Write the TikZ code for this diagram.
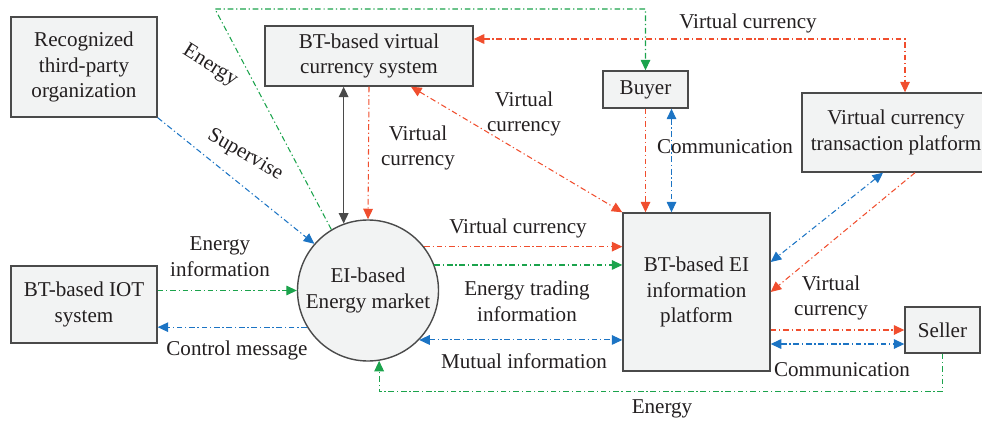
\documentclass[tikz,border=0pt]{standalone}
\usepackage{fontspec}
\setmainfont{Liberation Serif}
\usetikzlibrary{arrows.meta}
\definecolor{vcred}{HTML}{F04E2E}
\definecolor{engreen}{HTML}{1BA34C}
\definecolor{inblue}{HTML}{1C74C4}
\definecolor{boxfill}{HTML}{F2F3F3}
\definecolor{boxline}{HTML}{4A4A4A}
\definecolor{txt}{HTML}{231F20}

\begin{document}
\begin{tikzpicture}[font=\fontsize{12}{14.7}\selectfont,text=txt,
                tip/.style={-{Triangle[length=6pt,width=5.5pt]}},
                tips/.style={{Triangle[length=6pt,width=5.5pt]}-{Triangle[length=6pt,width=5.5pt]}},
                dd/.style={line width=0.6pt,dash pattern=on 3.2pt off 1.6pt on 0.7pt off 1.6pt},
                block/.style={draw=boxline,fill=boxfill,line width=0.8pt,align=center,inner sep=2pt},
                lbl/.style={align=center,inner sep=0pt}]
                \useasboundingbox (0,0) rectangle (19.64,-8.46);
                \node[block,minimum width=2.92cm,minimum height=2cm] (third) at (1.68,-1.34) {Recognized\\third-party\\organization};
                \node[block,minimum width=4.16cm,minimum height=1.2cm] (vcs) at (7.38,-1.12) {BT-based virtual\\currency system};
                \node[block,minimum width=1.7cm,minimum height=0.74cm] (buyer) at (12.91,-1.79) {Buyer};
                \node[block,minimum width=3.76cm,minimum height=1.58cm] (vctp) at (17.92,-2.65) {Virtual currency\\transaction platform};
                \node[block,minimum width=2.92cm,minimum height=1.54cm] (iot) at (1.68,-6.09) {BT-based IOT\\system};
                \node[draw=boxline,fill=boxfill,line width=0.8pt,circle,minimum size=2.82cm,align=center,inner sep=0pt] (market) at (7.36,-5.81) {EI-based\\Energy market};
                \node[block,minimum width=2.94cm,minimum height=3.16cm] (eip) at (13.93,-5.84) {BT-based EI\\information\\platform};
                \node[block,minimum width=1.5cm,minimum height=0.92cm] (seller) at (18.85,-6.6) {Seller};
                \coordinate (etop) at (4.3,-0.18);
                \draw[dd,engreen,tip] (market.121) -- (etop) -- (buyer.north |- etop) -- (buyer.north);
                \draw[dd,inblue,tip] (third.south east) -- (market.139);
                \draw[line width=0.8pt,boxline,tips] (market.110 |- vcs.south) -- (market.110);
                \draw[dd,vcred,tip] (vcs.south) -- (market.north);
                \draw[dd,vcred,tips] ([xshift=0.84cm]vcs.south) -- (eip.north west);
                \draw[dd,vcred,tips] ([yshift=0.34cm]vcs.east) -| ([xshift=0.18cm]vctp.north);
                \draw[dd,vcred,tip] (buyer.south) -- (buyer.south |- eip.north);
                \draw[dd,inblue,tips] ([xshift=0.52cm]buyer.south) -- ([xshift=0.52cm]buyer.south |- eip.north);
                \draw[dd,inblue,tips] ([xshift=-0.26cm]vctp.south) -- ([yshift=0.6cm]eip.east);
                \draw[dd,vcred,tip] ([xshift=0.38cm]vctp.south) -- (eip.east);
                \draw[dd,vcred,tip] (market.38) -- (market.38 -| eip.west);
                \draw[dd,engreen,tip] (market.21) -- (market.21 -| eip.west);
                \draw[dd,inblue,tips] (market.-44) -- (market.-44 -| eip.west);
                \draw[dd,engreen,tip] (iot.east |- market.west) -- (market.west);
                \draw[dd,inblue,tip] (market.211) -- (market.211 -| iot.east);
                \draw[dd,vcred,tip] (eip.east |- seller.west) -- (seller.west);
                \draw[dd,inblue,tips] (eip.east |- 0,-6.88) -- (seller.west |- 0,-6.88);
                \draw[dd,engreen,tip] (seller.south) -- ++(0,-0.76) -| (market.-81);
                \node[lbl,rotate=-32] (l1) at (4.2,-1.32) {Energy};
                \node[lbl,rotate=-30] (l2) at (4.9,-3.1) {Supervise};
                \node[lbl] (l3) at (8.36,-2.96) {Virtual\\currency};
                \node[lbl] (l4) at (10.48,-2.28) {Virtual\\currency};
                \node[lbl] (l5) at (14.96,-0.46) {Virtual currency};
                \node[lbl] (l6) at (14.5,-2.94) {Communication};
                \node[lbl] (l7) at (10.36,-4.56) {Virtual currency};
                \node[lbl] (l8) at (10.54,-6.02) {Energy trading\\information};
                \node[lbl] (l9) at (10.48,-7.22) {Mutual information};
                \node[lbl] (l10) at (4.4,-5.14) {Energy\\information};
                \node[lbl] (l11) at (4.74,-7.0) {Control message};
                \node[lbl] (l12) at (16.62,-5.96) {Virtual\\currency};
                \node[lbl] (l13) at (16.84,-7.4) {Communication};
                \node[lbl] (l14) at (13.24,-8.18) {Energy};
            \end{tikzpicture}
\end{document}
